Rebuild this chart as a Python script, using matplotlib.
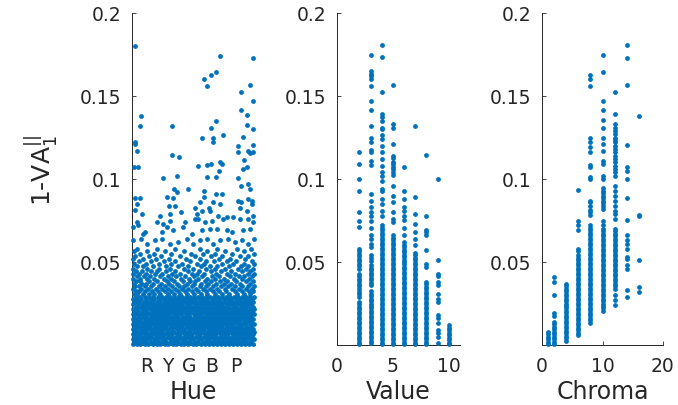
import numpy as np
import matplotlib.pyplot as plt

# all y values below are 1-VA in per mille (0.001)

# --- Hue panel: sparse points above the dense cloud
hue_sparse_x = [1.1, 32.2, 44.2, 30.7, 28.8, 26.3, 27.3, 43.2, 39.9, 44.2, 39.9, 3.2, 42.2, 30.7,
                3.0, 14.5, 42.2, 28.8, 44.2, 33.2, 25.5, 29.8, 29.8, 40.7, 1.1, 1.1, 1.9, 14.5,
                17.3, 38.9, 38.9, 42.6, 43.2, 44.2, 41.1, 44.4, 24.0, 27.6, 28.9, 32.2, 32.8,
                32.0, 0.7, 2.3, 40.7, 41.9, 30.7, 27.3, 11.2, 16.6, 38.9,
                15.5, 20.6, 26.3, 39.8, 43.2, 42.6, 16.3, 30.7, 32.8,
                1.1, 2.9, 12.9, 15.1, 26.3, 38.9, 42.6, 1.7, 24.9, 29.8, 39.9, 43.8,
                13.7, 15.8, 17.8, 23.1, 28.3, 32.2, 1.1, 3.5, 10.3, 13.9, 23.7, 25.5, 28.5,
                31.6, 34.7, 39.5, 41.9, 43.8, 44.2,
                1.7, 9.0, 11.5, 13.9, 19.4, 23.0, 24.3, 26.7, 29.2, 33.4, 37.0, 39.5, 42.6, 44.4,
                0.3, 2.3, 4.8, 10.9, 12.7, 15.0, 18.8, 21.8, 25.5, 28.5, 31.2, 34.6, 36.5,
                40.7, 43.2, 4.2,
                0.5, 3.2, 5.4, 8.4, 10.9, 13.9, 16.9, 20.0, 22.4, 24.9, 27.3, 29.8, 32.2,
                35.2, 37.7, 40.1, 42.6, 44.7]
hue_sparse_y = [180.3, 174.3, 172.9, 164.7, 162.7, 160.2, 155.8, 156.6, 152.2, 146.8, 141.6, 138.1,
                138.6, 135.1, 132.1, 132.1, 132.5, 130.5, 130.1, 126.7, 124.5, 124.5, 122.5,
                125.1, 122.1, 121.1, 117.1, 114.6, 113.4, 119.7, 116.5, 116.9, 115.6, 116.0,
                111.6, 120.5, 108.0, 108.6, 109.0, 110.4, 109.0, 104.6, 107.0, 107.0, 106.0,
                107.0, 101.0, 101.0, 100.4, 101.6, 100.4,
                94, 94, 93, 96, 94, 97, 92, 91, 91,
                88.4, 88.4, 89, 88.4, 89, 87, 88, 85, 86, 86, 86, 87,
                83.5, 84, 80.3, 82.4, 82.4, 85, 81.4, 79, 78, 79, 79, 81, 81,
                78, 77, 82.4, 81, 85, 78,
                74, 74, 73, 75, 74, 76, 76, 74, 75, 76, 77, 76, 76, 74,
                70.9, 72, 68, 68, 71, 69, 71, 67, 69, 70, 70, 69, 68,
                69, 70, 67,
                63, 64, 61, 63, 64, 61, 62, 64, 61, 63, 64, 61, 63,
                64, 62, 63.5, 61, 64]

# --- Hue panel: rows of the cloud below 0.06
hue_row_y = [58, 56.5, 55, 53.5, 52, 50.5, 49, 47.5, 46, 44.5, 43, 41.5, 40, 38.5, 37,
             35.5, 34, 32.5, 31,
             29, 27.5, 26, 24.5, 23, 21.5, 20, 18.5, 17, 15.5, 14, 12.5, 11, 9.5, 8,
             6.5, 5, 3.5, 2, 0.6]
hue_row_x = [
    "2.0 9.3 15.6 24.8 31.2 38.5 43.6",
    "0.6 5.4 12.1 19.0 27.5 34.0 41.0",
    "3.1 8.0 14.2 21.6 25.9 30.4 36.7 44.5",
    "1.2 6.3 10.7 17.4 23.2 28.8 33.1 39.4 42.6",
    "0.3 4.1 8.9 13.6 19.8 25.0 31.9 35.8 41.5",
    "2.5 6.9 11.8 15.9 21.3 27.0 29.9 34.6 38.2 43.9",
    "0.9 5.0 9.8 14.4 18.3 23.9 26.3 32.8 37.0 40.8 44.6",
    "2.0 3.9 7.6 12.5 16.8 20.5 25.2 28.4 31.0 35.6 39.7 42.4",
    "0.4 5.6 10.0 13.9 18.9 22.4 27.1 30.2 33.9 38.8 41.7 44.2",
    "1.5 3.5 7.0 9.1 12.3 15.7 20.6 24.4 28.8 32.5 36.3 40.1 43.0",
    "0.5 2.6 5.3 8.3 11.0 14.8 17.6 21.9 23.6 26.4 30.9 34.8 37.7 42.3 44.7",
    "1.8 4.3 6.6 10.2 13.1 16.2 19.4 22.8 25.6 29.3 31.7 35.9 39.0 41.1 43.8",
    "0.2 3.0 5.5 8.0 11.7 14.2 17.9 20.9 24.1 27.5 30.4 33.6 37.2 40.4 42.9",
    "1.3 2.9 6.2 9.3 12.8 15.4 18.6 21.3 23.0 26.8 28.9 32.2 34.9 38.1 41.6 44.4",
    "0.6 3.8 5.0 7.5 10.6 13.5 16.6 20.0 22.5 25.3 27.8 30.8 33.5 36.4 39.5 43.2",
    "1.0 2.4 4.6 6.9 9.7 11.9 14.6 17.2 19.1 21.8 24.7 27.0 29.7 32.6 35.1 37.5 40.3 42.5 44.8",
    "0.3 3.2 5.8 8.6 10.8 13.0 15.8 18.4 20.6 23.5 26.1 28.5 31.2 34.1 36.6 39.2 41.8 43.9",
    "1.5 2.7 4.9 7.2 9.4 12.1 14.1 16.7 19.5 22.1 24.0 26.9 29.6 31.8 34.5 37.8 40.1 42.7 44.4",
    "0.6 2.0 3.9 6.1 8.2 10.3 13.0 15.2 17.6 20.3 22.8 25.2 27.6 30.3 32.9 35.6 38.5 41.0 43.3",
    "1.4 2.9 4.7 6.2 7.7 9.4 10.8 12.3 13.9 15.3 16.9 18.2 19.8 21.1 22.8 24.2 25.5 27.2 28.6 30.1 31.6 33.0 34.5 36.0 37.4 38.9 40.4 41.8 43.3 44.8",
    "0.4 1.9 3.3 5.1 6.8 8.2 9.9 11.3 12.8 14.3 15.9 17.2 18.7 20.2 21.7 23.1 24.7 26.1 27.6 29.1 30.6 32.0 33.5 35.0 36.4 37.9 39.4 40.9 42.3 43.8",
    "1.0 2.7 4.3 5.9 7.4 9.0 10.4 11.9 13.4 14.9 16.4 17.8 19.3 20.8 22.3 23.7 25.2 26.7 28.2 29.6 31.1 32.6 34.0 35.5 37.0 38.5 40.0 41.4 42.9 44.4",
    "0.2 2.1 3.6 5.0 6.6 8.1 9.6 11.0 12.6 14.0 15.5 17.0 18.4 20.0 21.4 22.9 24.4 25.8 27.3 28.8 30.3 31.7 33.1 34.7 36.1 37.6 39.0 40.5 42.0 43.5",
    "1.3 2.8 4.4 5.8 7.3 8.8 10.3 11.7 13.2 14.7 16.2 17.6 19.1 20.6 22.0 23.5 25.0 26.5 27.9 29.4 30.9 32.3 33.8 35.3 36.8 38.2 39.7 41.2 42.6 44.1",
    "0.5 2.0 3.5 4.9 6.5 7.9 9.5 10.9 12.4 13.9 15.3 16.8 18.3 19.8 21.2 22.7 24.1 25.7 27.0 28.6 30.0 31.5 33.0 34.5 35.9 37.4 38.9 40.3 41.8 43.3 44.7",
    "1.2 2.6 4.1 5.6 7.2 8.6 10.1 11.6 13.0 14.5 16.0 17.5 18.9 20.4 21.9 23.3 24.8 26.3 27.8 29.2 30.7 32.2 33.6 35.2 36.6 38.1 39.6 41.0 42.5 44.0",
    "0.3 1.9 3.2 4.8 6.3 7.7 9.3 10.7 12.2 13.6 15.2 16.6 18.1 19.6 21.0 22.6 24.0 25.4 27.1 28.4 29.9 31.4 32.9 34.3 35.8 37.3 38.7 40.2 41.7 43.2 44.6",
    "0.9 2.4 3.8 5.3 6.9 8.3 9.8 11.2 12.7 14.1 15.7 17.0 18.6 20.1 21.4 23.0 24.4 25.9 27.4 28.8 30.4 31.8 33.3 34.8 36.2 37.7 39.1 40.7 42.1 43.6",
    "0.2 1.7 3.1 4.6 6.2 7.6 9.0 10.6 11.9 13.5 15.0 16.3 17.9 19.4 20.8 22.3 23.8 25.2 26.7 28.1 29.6 31.1 32.7 34.0 35.5 37.1 38.4 40.0 41.4 42.9 44.4",
    "1.1 2.5 4.1 5.6 7.0 8.5 10.0 11.4 12.9 14.4 15.8 17.3 18.8 20.2 21.7 23.2 24.6 26.0 27.6 29.0 30.5 32.0 33.4 34.9 36.4 37.8 39.3 40.8 42.2 43.7",
    "0.4 1.8 3.4 4.7 6.3 7.8 9.2 10.7 12.1 13.6 15.1 16.5 18.0 19.5 20.9 22.4 23.8 25.3 26.8 28.3 29.7 31.2 32.6 34.2 35.6 37.0 38.6 40.0 41.5 43.0 44.5",
    "1.0 2.4 3.9 5.4 6.7 8.3 9.7 11.3 12.5 14.2 15.6 17.2 18.4 20.1 21.5 22.9 24.5 25.9 27.3 28.8 30.3 31.8 33.1 34.7 36.1 37.5 39.1 40.4 42.0 43.5",
    "0.3 1.6 3.2 4.5 6.0 7.4 8.9 10.4 11.8 13.3 14.8 16.4 17.8 19.1 20.8 22.2 23.6 25.2 26.5 28.0 29.6 31.0 32.4 34.0 35.4 36.8 38.3 39.9 41.2 42.7 44.1",
    "0.9 2.3 3.8 5.2 6.8 8.2 9.6 11.1 12.7 14.1 15.5 17.1 18.5 19.9 21.4 23.0 24.4 25.8 27.4 28.8 30.2 31.7 33.2 34.6 36.1 37.6 39.0 40.5 41.9 43.4 44.8",
    "0.2 1.7 3.0 4.6 6.1 7.5 9.0 10.5 11.9 13.4 14.8 16.3 17.7 19.3 20.7 22.1 23.7 25.0 26.6 28.1 29.5 30.9 32.5 33.9 35.3 36.9 38.4 39.7 41.3 42.7 44.2",
    "1.2 2.6 4.2 5.5 7.1 8.6 10.1 11.5 13.1 14.5 16.0 17.4 19.0 20.4 21.8 23.3 24.8 26.3 27.7 29.2 30.6 32.2 33.6 35.1 36.6 38.0 39.5 41.0 42.4 43.9",
    "0.4 1.9 3.3 4.8 6.2 7.9 9.2 10.9 12.2 13.8 15.0 16.6 18.1 19.5 21.1 22.4 24.0 25.4 27.0 28.2 29.9 31.3 32.9 34.3 35.7 37.3 38.6 40.2 41.5 43.1 44.6",
    "1.0 2.5 4.0 5.3 6.9 8.3 9.8 11.2 12.6 14.1 15.6 17.0 18.5 20.0 21.4 22.9 24.3 25.8 27.3 28.9 30.3 31.8 33.2 34.8 36.2 37.7 39.1 40.6 42.1 43.6",
    "0.3 1.8 3.1 4.7 6.0 7.6 9.1 10.4 12.0 13.3 14.9 16.2 17.9 19.2 20.6 22.3 23.5 25.1 26.6 28.0 29.7 31.0 32.5 34.1 35.4 37.0 38.3 39.9 41.2 42.8 44.3",
]
hue_ticks = [5.5, 13.2, 21.0, 29.0, 37.8]
hue_labels = ['R', 'Y', 'G', 'B', 'P']

# --- Value panel
value_levels = [2, 3, 4, 5, 6, 7, 8, 9, 10]
value_y = [
    "116.5 109 100 93 80 74.5 71 58 56.5 55 53.5 52 50.5 49 47.5 46 43 41.5 40 38.5 37 35.5 34 32 30.5 29 26 24.5 23 21.5 20 18.5 17 15.5 14 12.5 11 9.5 8 6.5 5 3.5 2 0.5",
    "174.5 165 163.5 162 160 156 147 141.5 132 124.5 122.5 117.5 116 111 108.5 91 87 83 80 78 75 70.5 66 64 61 59 54 52.5 50.5 48 46.5 45 43.5 42 40.5 39 37.5 36 32.5 31 29.5 28 26.5 25 23.5 22 20.5 19 17.5 16 14.5 13 11.5 10 8.5 7 5.5 4 2.5 1",
    "180.5 173.5 152.5 139 137.5 135 131 130 126.5 124 120 116 112 108 104 102 99 94 93 88 85 81 78 72 70.5 69 67.5 66 64.5 63 61.5 60 58.5 57 55.5 54 52.5 51 49.5 48 46.5 45 43.5 42 40.5 39 37.5 36 34.5 33 31.5 30 28.5 27 25.5 24 22.5 21 19.5 18 16.5 15 13.5 12 10.5 9 7.5 6 4.5 3 1.5 0.5",
    "156.5 133 131 121 114 112.5 110.5 109 107.5 106 104 102.5 96 90 86 80 76 74 66 64.5 63 61.5 60 58.5 57 55.5 54 52.5 51 49.5 48 46.5 45 43.5 42 40.5 39 37.5 36 34.5 33 31.5 30 28.5 27 25.5 24 22.5 21 19.5 18 16.5 15 13.5 12 10.5 9 7.5 6 4.5 3 1.5 0.5",
    "107.5 93 88 83 81 78 75.5 70.5 66 62 60.5 59 57.5 56 54.5 53 51.5 50 48.5 47 45.5 44 42.5 41 39.5 38 36.5 35 33.5 32 30.5 29 27.5 26 24.5 23 21.5 20 18.5 17 15.5 14 12.5 11 9.5 8 6.5 5 3.5 2 0.5",
    "132 89 79 73 68 64 60 55.5 54 52.5 51 49.5 48 46.5 45 43.5 42 40.5 39 37.5 36 34.5 33 31.5 30 28.5 27 25.5 24 22.5 21 19.5 18 16.5 15 13.5 12 10.5 9 7.5 6 4.5 3 1.5 0.5",
    "114.5 77.5 69.5 68 66.5 57 49 47 38 36.5 35 33.5 32 30.5 29 27.5 26 24.5 23 21.5 20 18.5 17 15.5 14 12.5 11 9.5 8 6.5 5 3.5 2 0.5",
    "100 51 43 41.5 38 36 31 28 26 18 16.5 13 9 7 5 1",
    "12 10.5 9 7.5 6 4.5 3 1.5 0.5",
]

# --- Chroma panel
chroma_levels = [1, 2, 4, 6, 8, 10, 12, 14, 16]
chroma_y = [
    "8 6.5 5 3.5 2 0.5",
    "41 38 30 19 17.5 14 12.5 11 9.5 8 6.5 5 3.5 2 0.5",
    "37 35.5 34 32.5 31 29.5 28 26.5 25 23.5 22 20.5 19 17.5 16 14.5 13 11.5 10 8.5 7 5.5 4 2.5",
    "93.5 74.5 72.5 69 58 56.5 54 52.5 51 49.5 48 46.5 45 43.5 42 40.5 39 37.5 36 34.5 33 31.5 30 28.5 27 25.5 24 22.5 21 19.5 18 16.5 15 13.5 12 10.5 9 7.5 6",
    "162.5 160 156 124.5 122.5 119.5 116.5 108.5 107 101 100 87 86 84 81.5 80 78.5 72 70.5 69 67.5 66 64.5 63 61.5 60 58.5 57 55.5 54 52.5 51 49.5 48 46.5 45 43.5 42 40.5 39 37.5 36 34.5 33 31.5 30 28.5 27 25.5 24 22.5 21 19.5 18 16.5 15 13",
    "174.5 164.5 147 141.5 135.5 130.5 125 121 117 111 109 102 100 94.5 93 91.5 90 88.5 87 85.5 84 82 75 72 70 68.5 67 65.5 64 62.5 61 59.5 58 56.5 55 53.5 52 50.5 49 47.5 46 44.5 43 41.5 40 38.5 37 35.5 34 32.5 31 29.5 28 26.5 25 23.5 22 20.5",
    "152.5 139 133 131 129 127 125 123.5 122 120 118 116 114 112 110 108 106 104 102 96 93 90 87 84 81 79 76 70 68.5 67 65.5 64 62.5 61 59.5 58 56.5 55 53.5 52 50.5 49 47.5 46 44.5 43 41.5 40 38.5 37 35.5 34 30 27 24",
    "180.5 173 156.5 120.5 107.5 105 100 88.5 75.5 66 63.5 61 58 53 52 48 46 33 29",
    "138 78.5 77.5 51 35 32",
]


def pm(s):
    return np.array(s.split(), dtype=float) / 1000.


def columns(levels, ys):
    xs, vals = [], []
    for lev, s in zip(levels, ys):
        v = pm(s)
        xs.append(np.full_like(v, lev))
        vals.append(v)
    return np.concatenate(xs), np.concatenate(vals)


blue = '#0072BD'
grey = '#262626'
dot = 12
plt.rcParams['font.family'] = 'DejaVu Sans'
plt.rcParams['mathtext.fontset'] = 'dejavusans'

fig = plt.figure(figsize=(6.78, 4.06), dpi=100)
W, H = 678., 406.
bot, ht = 60 / H, 332 / H
ax1 = fig.add_axes([132 / W, bot, 123 / W, ht])
ax2 = fig.add_axes([337 / W, bot, 123 / W, ht])
ax3 = fig.add_axes([542 / W, bot, 121 / W, ht])

# hue cloud
hx = list(hue_sparse_x)
hy = list(np.array(hue_sparse_y) / 1000.)
for yv, s in zip(hue_row_y, hue_row_x):
    row = [float(v) for v in s.split()]
    hx += row
    hy += [yv / 1000.] * len(row)
ax1.scatter(hx, hy, s=dot, c=blue, linewidths=0, zorder=3, clip_on=False)

vx, vy = columns(value_levels, value_y)
ax2.scatter(vx, vy, s=dot, c=blue, linewidths=0, zorder=3, clip_on=False)

cx, cy = columns(chroma_levels, chroma_y)
ax3.scatter(cx, cy, s=dot, c=blue, linewidths=0, zorder=3, clip_on=False)

for ax in (ax1, ax2, ax3):
    ax.set_ylim(0, 0.2)
    ax.set_yticks([0.05, 0.1, 0.15, 0.2])
    ax.set_yticklabels(['0.05', '0.1', '0.15', '0.2'])
    for sp in ('top', 'right'):
        ax.spines[sp].set_visible(False)
    for sp in ('left', 'bottom'):
        ax.spines[sp].set_color(grey)
        ax.spines[sp].set_linewidth(0.7)
    ax.tick_params(axis='both', direction='in', length=3, width=0.6, color=grey,
                   labelcolor=grey, labelsize=13.5)
    ax.tick_params(axis='y', pad=8)
    ax.tick_params(axis='x', pad=8)

ax1.set_xlim(0, 45)
ax1.set_xticks(hue_ticks)
ax1.set_xticklabels(hue_labels)
ax1.set_xlabel('Hue', fontsize=17, color=grey, labelpad=3)
ax1.set_ylabel(r'1-VA$_1^{||}$', fontsize=18, color=grey)
ax1.yaxis.set_label_coords(-0.58, 0.53)

ax2.set_xlim(0, 11)
ax2.set_xticks([0, 5, 10])
ax2.set_xlabel('Value', fontsize=17, color=grey, labelpad=3)

ax3.set_xlim(0, 20)
ax3.set_xticks([0, 10, 20])
ax3.set_xlabel('Chroma', fontsize=17, color=grey, labelpad=3)

fig.savefig('out.png', dpi=100)
